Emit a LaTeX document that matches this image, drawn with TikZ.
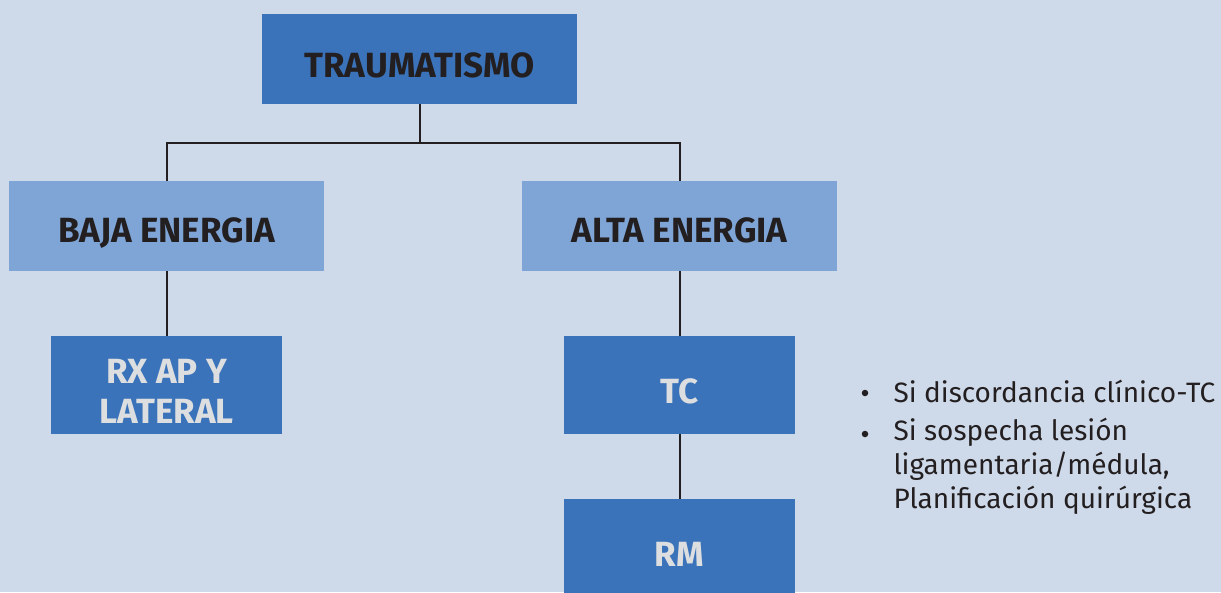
\documentclass[tikz,border=0pt]{standalone}
\usepackage{fontspec}
\setmainfont{Fira Sans}
\usetikzlibrary{positioning}

\definecolor{bgblue}{RGB}{206,217,233}
\definecolor{darkbox}{RGB}{59,115,186}
\definecolor{lightbox}{RGB}{127,165,215}
\definecolor{inkdark}{RGB}{35,31,32}
\definecolor{inklight}{RGB}{221,222,224}

\begin{document}
\begin{tikzpicture}[
  x=1pt, y=-1pt,
  top/.style={rectangle, fill=darkbox, minimum width=315pt, minimum height=90pt,
              text=inkdark, text height=37pt, text depth=0pt,
              font=\fontsize{35}{38}\selectfont\bfseries},
  level/.style={rectangle, fill=lightbox, minimum width=315pt, minimum height=90pt,
                text=inkdark, text height=33pt, text depth=0pt,
                font=\fontsize{35}{38}\selectfont\bfseries},
  exam/.style={rectangle, fill=darkbox, minimum width=231pt, minimum height=98pt,
               text=inklight, align=center, font=\fontsize{35}{40}\selectfont\bfseries},
  link/.style={line width=2pt, inkdark},
  note/.style={text=inkdark, anchor=west, font=\fontsize{28}{34}\selectfont},
  dot/.style={circle, fill=inkdark, inner sep=0pt, minimum size=6.5pt}
]
\fill[bgblue] (0,0) rectangle (1221,592);
\useasboundingbox (0,0) rectangle (1221,592);
\clip (0,0) rectangle (1221,592);

% Boxes
\node[top]   (trauma) at (419.5,59)  {TRAUMATISMO};
\node[level] (baja)   at (166.5,226) {BAJA ENERGIA};
\node[level] (alta)   at (679.5,226) {ALTA ENERGIA};
\node[exam, text height=77pt, text depth=0pt] (rx) at (166.5,385) {RX AP Y\\LATERAL};
\node[exam, text height=37pt, text depth=0pt] (tc) at (679.5,385) {TC};
\node[exam, text height=37pt, text depth=0pt] (rm) at (679.5,548) {RM};

% Notes next to TC
\node[dot]  (b1) at (865,393) {};
\node[note] (n1) at (890,391) {Si discordancia clínico-TC};
\node[dot]  (b2) at (865,434) {};
\node[note, anchor=north west, align=left] (n2) at (890,415)
  {Si sospecha lesión\\ligamentaria/médula,\\Planificación quirúrgica};

% Connectors
\draw[link] (trauma.south) -- ++(0,39) -| (baja.north);
\draw[link] (trauma.south) -- ++(0,39) -| (alta.north);
\draw[link] (baja) -- (rx);
\draw[link] (alta) -- (tc);
\draw[link] (tc) -- (rm);

\end{tikzpicture}
\end{document}
